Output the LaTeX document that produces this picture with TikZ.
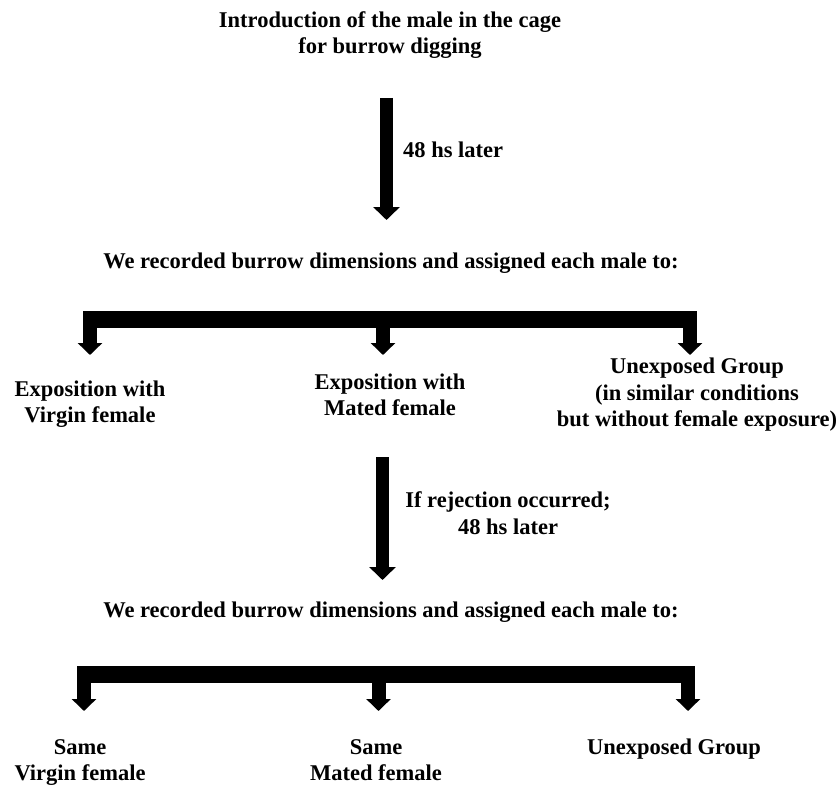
\documentclass[tikz,border=0pt]{standalone}
\usepackage{fontspec}
\setmainfont{Liberation Serif}
\usetikzlibrary{arrows.meta}
\begin{document}
\begin{tikzpicture}[x=1pt,y=-1pt,
  lbl/.style={inner sep=0pt,align=center,font=\fontsize{22.5}{26.5}\selectfont\bfseries},
  bigarrow/.style={line width=13pt,-{Triangle[width=26pt,length=13pt]}},
  droparrow/.style={line width=14pt,-{Triangle[width=24pt,length=12pt]}},
  barline/.style={line width=17pt}]
\useasboundingbox (0,0) rectangle (840,789);
% texts
\node[lbl] (title) at (390,35) {Introduction of the male in the cage\\for burrow digging};
\node[lbl,anchor=west] (t48a) at (403,150) {48 hs later};
\node[lbl] (rec1) at (391,263) {We recorded burrow dimensions and assigned each male to:};
\node[lbl] (virg1) at (90,404) {Exposition with\\Virgin female};
\node[lbl] (mate1) at (390,395) {Exposition with\\Mated female};
\node[lbl] (unex1) at (697,395) {Unexposed Group\\(in similar conditions\\but without female exposure)};
\node[lbl] (rej) at (508,513) {If rejection occurred;\\48 hs later};
\node[lbl] (rec2) at (391,612) {We recorded burrow dimensions and assigned each male to:};
\node[lbl,anchor=north] (virg2) at (80,739) {Same\\Virgin female};
\node[lbl,anchor=north] (mate2) at (376,739) {Same\\Mated female};
\node[lbl,anchor=north] (unex2) at (674,739) {Unexposed Group};
% arrow 1
\coordinate (a1s) at (386.5,98);
\coordinate (a1e) at (386.5,220);
\draw[bigarrow] (a1s) -- (a1e);
% bracket 1
\coordinate (b1l) at (83,319.5);
\coordinate (b1r) at (697,319.5);
\draw[barline] (b1l) -- (b1r);
\coordinate (d1ls) at (90,311);   \coordinate (d1le) at (90,355);
\coordinate (d1ms) at (383,311);  \coordinate (d1me) at (383,355);
\coordinate (d1rs) at (690,311);  \coordinate (d1re) at (690,355);
\draw[droparrow] (d1ls) -- (d1le);
\draw[droparrow] (d1ms) -- (d1me);
\draw[droparrow] (d1rs) -- (d1re);
% arrow 2
\coordinate (a2s) at (382.5,457);
\coordinate (a2e) at (382.5,580);
\draw[bigarrow] (a2s) -- (a2e);
% bracket 2
\coordinate (b2l) at (77,674.5);
\coordinate (b2r) at (695,674.5);
\draw[barline] (b2l) -- (b2r);
\coordinate (d2ls) at (84,666);   \coordinate (d2le) at (84,711);
\coordinate (d2ms) at (378.5,666);\coordinate (d2me) at (378.5,711);
\coordinate (d2rs) at (688,666);  \coordinate (d2re) at (688,711);
\draw[droparrow] (d2ls) -- (d2le);
\draw[droparrow] (d2ms) -- (d2me);
\draw[droparrow] (d2rs) -- (d2re);
\end{tikzpicture}
\end{document}
